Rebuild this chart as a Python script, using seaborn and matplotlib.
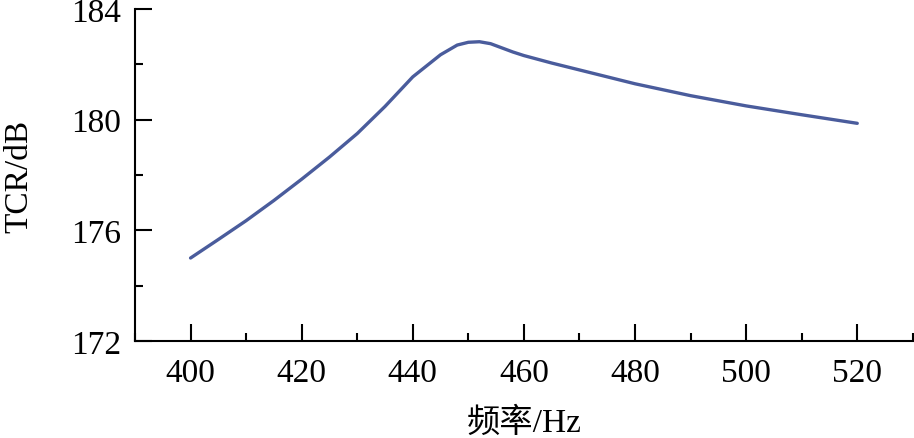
import pandas as pd
import matplotlib.pyplot as plt
import seaborn as sns
from matplotlib.ticker import MultipleLocator

freq = [400, 405, 410, 415, 420, 425, 430, 435, 440, 445, 448, 450, 452,
        454, 456, 458, 460, 465, 470, 480, 490, 500, 510, 520]
tcr = [175.0, 175.67, 176.35, 177.08, 177.85, 178.65, 179.5, 180.48, 181.55,
       182.35, 182.7, 182.8, 182.82, 182.75, 182.6, 182.45, 182.32, 182.05,
       181.8, 181.3, 180.87, 180.5, 180.18, 179.87]

df = pd.DataFrame({"freq": freq, "tcr": tcr})

sns.set_style("ticks")
plt.rcParams['font.family'] = ['Liberation Serif', 'Noto Sans CJK SC']
plt.rcParams['text.color'] = 'black'
plt.rcParams['axes.labelcolor'] = 'black'
plt.rcParams['xtick.color'] = 'black'
plt.rcParams['ytick.color'] = 'black'

fig = plt.figure(figsize=(9.14, 4.39), dpi=100)
ax = fig.add_axes([0.1477, 0.221, 0.851, 0.756])

sns.lineplot(x="freq", y="tcr", data=df, ax=ax, color="#4a5c9c", linewidth=2.4)

ax.set_xlim(390, 530)
ax.set_ylim(172, 184)
ax.xaxis.set_major_locator(MultipleLocator(20))
ax.xaxis.set_minor_locator(MultipleLocator(10))
ax.yaxis.set_major_locator(MultipleLocator(4))
ax.yaxis.set_minor_locator(MultipleLocator(2))
ax.tick_params(which="both", direction="in", width=1.5, labelsize=24)
ax.tick_params(which="major", length=12)
ax.tick_params(which="minor", length=6)
ax.tick_params(axis="x", pad=12)
ax.tick_params(axis="y", pad=10)

for side in ["top", "right"]:
    ax.spines[side].set_visible(False)
for side in ["left", "bottom"]:
    ax.spines[side].set_linewidth(1.5)
    ax.spines[side].set_color("black")

ax.set_xlabel("频率/Hz", fontsize=24, labelpad=13)
ax.set_ylabel("TCR/dB", fontsize=24, labelpad=26)

fig.savefig("out.png")
